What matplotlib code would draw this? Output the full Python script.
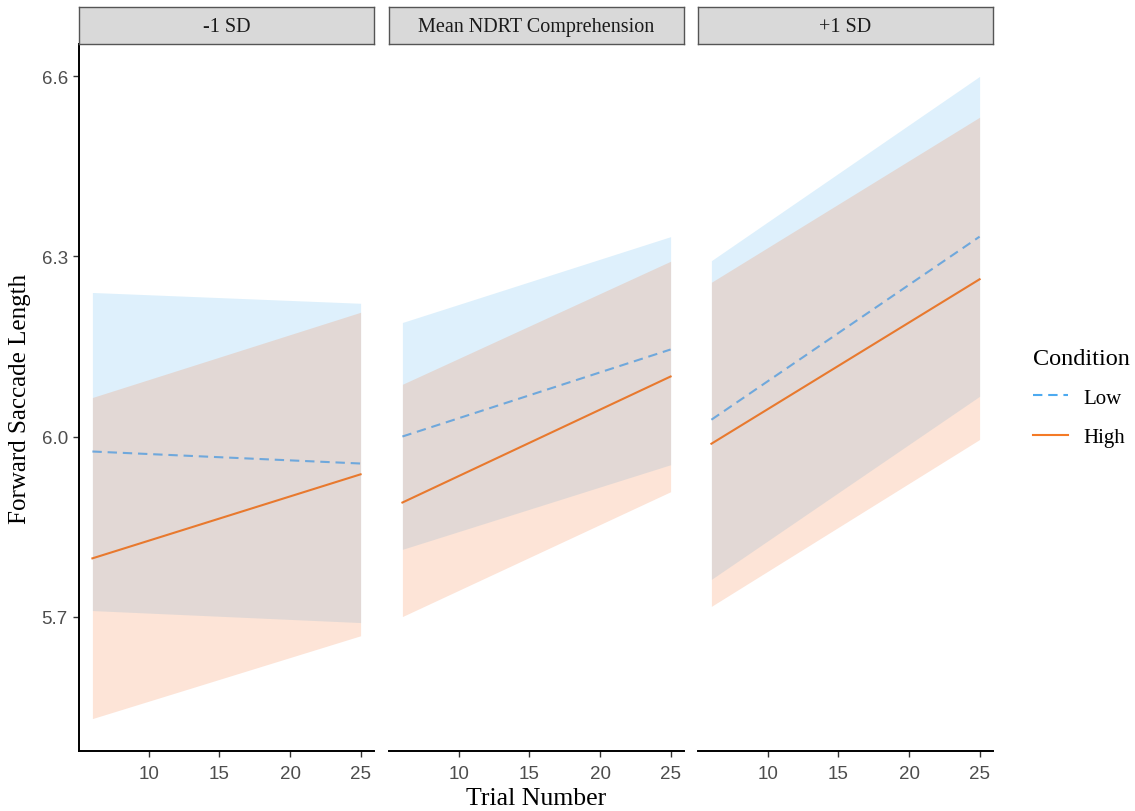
import numpy as np
import matplotlib.pyplot as plt
from matplotlib.lines import Line2D

# Panels (moderator level) and trial range
panels = ['-1 SD', 'Mean NDRT Comprehension', '+1 SD']
trial = [6, 25]

# Low condition: fit line and CI bounds per panel
low_fit = [[5.975, 5.955], [6.000, 6.145], [6.028, 6.333]]
low_upper = [[6.240, 6.222], [6.190, 6.333], [6.293, 6.600]]
low_lower = [[5.710, 5.690], [5.812, 5.953], [5.762, 6.067]]

# High condition: fit line and CI bounds per panel
high_fit = [[5.797, 5.937], [5.890, 6.100], [5.988, 6.262]]
high_upper = [[6.065, 6.207], [6.087, 6.292], [6.257, 6.532]]
high_lower = [[5.530, 5.668], [5.700, 5.908], [5.717, 5.995]]

W, H = 1135, 812
fig = plt.figure(figsize=(W / 100, H / 100), dpi=100)

serif = 'Liberation Serif'
sans = 'Liberation Sans'

lefts = [79, 389, 698]
pw = 295
ax_top, ax_bot = 45, 752
strip_top = 8

low_fill = '#5AB8F0'
high_fill = '#F5793A'
low_line = '#6FA8DC'
high_line = '#E8792E'

for i, name in enumerate(panels):
    ax = fig.add_axes([lefts[i] / W, (H - ax_bot) / H, pw / W, (ax_bot - ax_top) / H])
    ax.fill_between(trial, low_lower[i], low_upper[i], color=low_fill, alpha=0.2, lw=0)
    ax.fill_between(trial, high_lower[i], high_upper[i], color=high_fill, alpha=0.2, lw=0)
    ax.plot(trial, low_fit[i], color=low_line, lw=1.5, dashes=(4.5, 2.8))
    ax.plot(trial, high_fit[i], color=high_line, lw=1.5)
    ax.set_xlim(5.05, 25.95)
    ax.set_ylim(5.476, 6.654)
    ax.set_xticks([10, 15, 20, 25])
    ax.set_yticks([5.7, 6.0, 6.3, 6.6])
    ax.set_yticklabels(['5.7', '6.0', '6.3', '6.6'])
    for s in ['top', 'right']:
        ax.spines[s].set_visible(False)
    ax.spines['bottom'].set_linewidth(1.4)
    ax.spines['left'].set_linewidth(1.4)
    ax.tick_params(axis='both', length=4, width=1.0, color='#333333',
                   labelcolor='#4D4D4D', labelsize=13.5)
    ax.tick_params(axis='x', pad=6)
    ax.tick_params(axis='y', pad=4)
    for lab in ax.get_xticklabels() + ax.get_yticklabels():
        lab.set_fontfamily(sans)
    if i > 0:
        ax.spines['left'].set_visible(False)
        ax.tick_params(axis='y', left=False, labelleft=False)

    # facet strip
    sax = fig.add_axes([lefts[i] / W, (H - ax_top) / H, pw / W, (ax_top - strip_top) / H])
    sax.set_facecolor('#D9D9D9')
    sax.set_xticks([])
    sax.set_yticks([])
    for s in sax.spines.values():
        s.set_color('#555555')
        s.set_linewidth(1.0)
    sax.text(0.5, 0.47, name, ha='center', va='center', fontsize=14.5,
             family=serif, color='#1A1A1A', transform=sax.transAxes)

fig.text(536 / W, 1 - 799 / H, 'Trial Number', ha='center', va='center',
         fontsize=18.5, family=serif)
fig.text(20 / W, 1 - 399 / H, 'Forward Saccade Length', ha='center', va='center',
         rotation=90, fontsize=18, family=serif)

handles = [Line2D([], [], color='#4DAAF0', lw=1.5, dashes=(4.5, 2.8)),
           Line2D([], [], color='#F47A26', lw=1.5)]
leg = fig.legend(handles, ['Low', 'High'], title='Condition',
                 loc='upper left', bbox_to_anchor=(1014 / W, 1 - 330 / H),
                 frameon=False, handlelength=1.7, handletextpad=0.75,
                 labelspacing=0.95,
                 prop={'family': serif, 'size': 15})
leg.get_title().set_fontfamily(serif)
leg.get_title().set_fontsize(17.5)
leg._legend_box.align = 'left'
leg._legend_box.sep = 14

fig.savefig('out.png', dpi=100)
